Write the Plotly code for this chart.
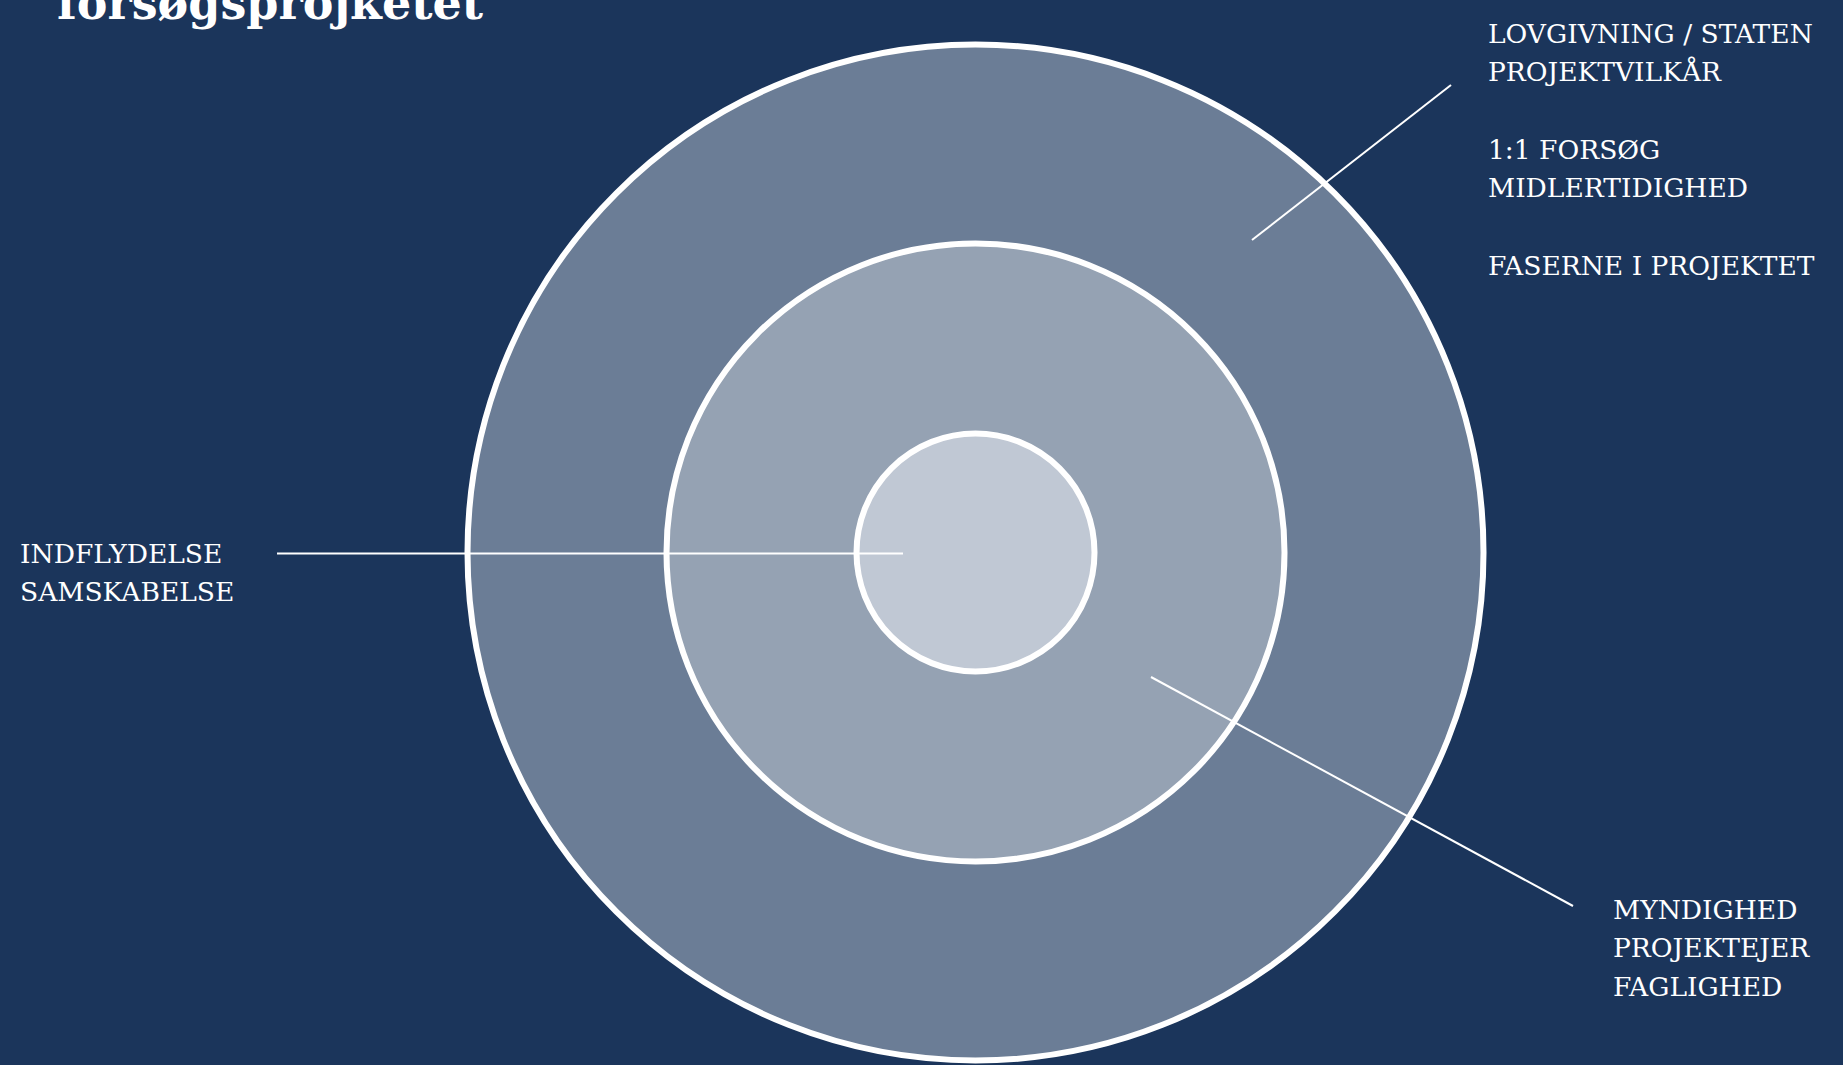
import plotly.graph_objects as go

# rings, outermost first (radius in px of the 1843x1065 canvas)
ring_names = ["ydre", "midter", "inder"]
ring_radius = [508, 309, 119]
ring_colors = ["#6b7d96", "#95a2b3", "#c0c8d4"]
center = (975.5, 552.5)

# leader lines: (x0, y0, x1, y1)
leader_lines = [
    (1451, 85, 1252, 240),
    (277, 553.5, 903, 553.5),
    (1151, 677, 1573, 906),
]

# label groups: (x, first baseline, lines)
label_top = ["LOVGIVNING / STATEN", "PROJEKTVILKÅR", "", "1:1 FORSØG",
             "MIDLERTIDIGHED", "", "FASERNE I PROJEKTET"]
label_left = ["INDFLYDELSE", "SAMSKABELSE"]
label_bottom = ["MYNDIGHED", "PROJEKTEJER", "FAGLIGHED"]
label_groups = [(1486, 43, label_top), (18, 563, label_left), (1611, 919, label_bottom)]

title = "forsøgsprojketet"

BG = "#1b355b"
FONT = "DejaVu Serif"

fig = go.Figure()
fig.add_trace(go.Scatter(x=[0, 1843], y=[0, 1065], mode="markers",
                         marker=dict(opacity=0), hoverinfo="skip", showlegend=False))

cx, cy = center
for name, r, col in zip(ring_names, ring_radius, ring_colors):
    fig.add_shape(type="circle", xref="x", yref="y",
                  x0=cx - r, x1=cx + r, y0=cy - r, y1=cy + r,
                  fillcolor=col, line=dict(color="white", width=6), layer="above")

for x0, y0, x1, y1 in leader_lines:
    fig.add_shape(type="line", xref="x", yref="y", x0=x0, y0=y0, x1=x1, y1=y1,
                  line=dict(color="white", width=2), layer="above")

line_gap = 38.7
for x, base, lines in label_groups:
    for i, txt in enumerate(lines):
        if not txt:
            continue
        fig.add_annotation(x=x, y=base + i * line_gap - 10, xref="x", yref="y",
                           text=txt, showarrow=False, xanchor="left", yanchor="middle",
                           font=dict(family=FONT, size=26.5, color="white"))

# title sits partly above the top edge, as in the slide
fig.add_annotation(x=55, y=3, xref="x", yref="y", text="<b>" + title + "</b>",
                   showarrow=False, xanchor="left", yanchor="middle",
                   font=dict(family=FONT, size=46, color="white"))

fig.update_xaxes(range=[0, 1843], visible=False, fixedrange=True)
fig.update_yaxes(range=[1065, 0], visible=False, fixedrange=True)
fig.update_layout(width=1843, height=1065, margin=dict(l=0, r=0, t=0, b=0),
                  paper_bgcolor=BG, plot_bgcolor=BG, showlegend=False)

fig.write_html("out.html", config={"displayModeBar": False},
               post_script="document.body.style.margin='0';document.body.style.overflow='hidden';")
